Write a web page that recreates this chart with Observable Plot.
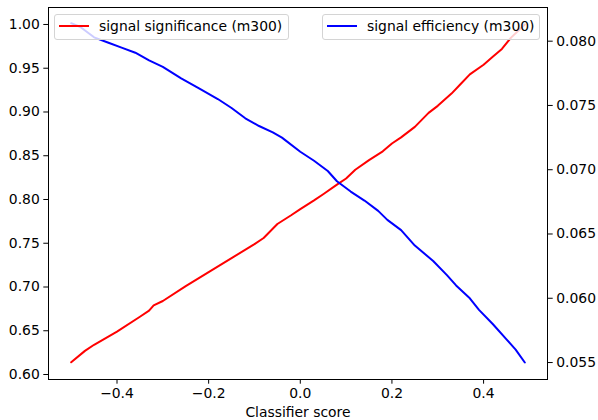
<!DOCTYPE html>
<html>
<head>
<meta charset="utf-8">
<script src="https://cdn.jsdelivr.net/npm/d3@7"></script>
<script src="https://cdn.jsdelivr.net/npm/@observablehq/plot@0.6"></script>
<style>
  html, body { margin: 0; padding: 0; background: #fff; }
  #wrap { position: relative; width: 598px; height: 420px; font-family: "DejaVu Sans", sans-serif; overflow: hidden; }
  .legend { position: absolute; top: 14px; height: 26px; background: rgba(255,255,255,0.8);
            border: 1px solid #d4d4d4; border-radius: 3px; box-sizing: border-box;
            font-size: 13.9px; color: #000; }
  .legend .sw { position: absolute; top: 10px; width: 30px; height: 0; border-top: 2px solid; }
  .legend .tx { position: absolute; top: 3px; white-space: nowrap; }
</style>
</head>
<body>
<div id="wrap"></div>
<script>
// signal significance (m300) — left axis
const sigX = [-0.50,-0.47,-0.45,-0.40,-0.35,-0.33,-0.32,-0.30,-0.25,-0.20,-0.15,-0.10,-0.08,-0.05,-0.02,0.00,0.03,0.05,0.08,0.10,0.12,0.15,0.18,0.20,0.22,0.25,0.28,0.30,0.33,0.35,0.37,0.40,0.42,0.44,0.46,0.49];
const sigY = [0.614,0.627,0.634,0.649,0.666,0.673,0.679,0.684,0.701,0.717,0.733,0.749,0.756,0.772,0.782,0.789,0.799,0.806,0.817,0.824,0.834,0.845,0.855,0.864,0.871,0.883,0.899,0.907,0.921,0.932,0.943,0.954,0.963,0.972,0.985,1.000];
// signal efficiency (m300) — right axis
const effX = [-0.50,-0.48,-0.45,-0.42,-0.39,-0.36,-0.33,-0.30,-0.26,-0.22,-0.18,-0.15,-0.12,-0.09,-0.06,-0.04,0.00,0.03,0.06,0.08,0.11,0.14,0.17,0.19,0.22,0.25,0.29,0.32,0.34,0.37,0.39,0.42,0.45,0.47,0.49];
const effY = [0.0814,0.0811,0.0803,0.0799,0.0795,0.0791,0.0785,0.0780,0.0771,0.0763,0.0755,0.0748,0.0740,0.0734,0.0729,0.0725,0.0714,0.0707,0.0699,0.0691,0.0683,0.0676,0.0668,0.0661,0.0653,0.0641,0.0629,0.0618,0.0610,0.0600,0.0591,0.0580,0.0568,0.0560,0.0550];

const xTicks = [-0.4, -0.2, 0.0, 0.2, 0.4];
const leftTicks = [0.60, 0.65, 0.70, 0.75, 0.80, 0.85, 0.90, 0.95, 1.00];
const rightTicks = [0.055, 0.060, 0.065, 0.070, 0.075, 0.080];
const labels = {sig: "signal significance (m300)", eff: "signal efficiency (m300)", x: "Classifier score"};

const xDomain = [-0.5495, 0.5395];
const leftDomain = [0.5943, 1.0194];
const rightDomain = [0.05368, 0.08262];
const toLeft = d3.scaleLinear().domain(rightDomain).range(leftDomain);

const sig = sigX.map((x, i) => ({x, y: sigY[i]}));
const eff = effX.map((x, i) => ({x, y: toLeft(effY[i])}));

const fmtMinus = s => s.replace("-", "\u2212");

const chart = Plot.plot({
  width: 598,
  height: 420,
  marginLeft: 48,
  marginRight: 51,
  marginTop: 7,
  marginBottom: 41,
  style: {fontFamily: "DejaVu Sans, sans-serif", fontSize: "13.9px", color: "#000", background: "#fff", overflow: "visible"},
  x: {domain: xDomain},
  y: {domain: leftDomain},
  marks: [
    Plot.line(sig, {x: "x", y: "y", stroke: "#ff0000", strokeWidth: 2}),
    Plot.line(eff, {x: "x", y: "y", stroke: "#0000ff", strokeWidth: 2}),
    Plot.frame({stroke: "#000", strokeWidth: 1}),
    Plot.axisX({ticks: xTicks, tickFormat: d => fmtMinus(d3.format(".1f")(d)), tickSize: 4.7, tickPadding: 4,
                label: labels.x, labelAnchor: "center", labelArrow: "none", labelOffset: 37}),
    Plot.axisY({anchor: "left", ticks: leftTicks, tickFormat: d3.format(".2f"), tickSize: 4.7, tickPadding: 4, label: null}),
    Plot.axisY({anchor: "right", ticks: rightTicks.map(toLeft), tickFormat: d => d3.format(".3f")(toLeft.invert(d)),
                tickSize: 4.7, tickPadding: 4, label: null})
  ]
});

const wrap = document.getElementById("wrap");
wrap.appendChild(chart);

function legend(left, width, color, text) {
  const box = document.createElement("div");
  box.className = "legend";
  box.style.left = left + "px";
  box.style.width = width + "px";
  const sw = document.createElement("div");
  sw.className = "sw";
  sw.style.left = "4px";
  sw.style.borderColor = color;
  const tx = document.createElement("div");
  tx.className = "tx";
  tx.style.left = "44px";
  tx.textContent = text;
  box.appendChild(sw);
  box.appendChild(tx);
  wrap.appendChild(box);
}
legend(54, 235, "#ff0000", labels.sig);
legend(322, 218, "#0000ff", labels.eff);
</script>
</body>
</html>
